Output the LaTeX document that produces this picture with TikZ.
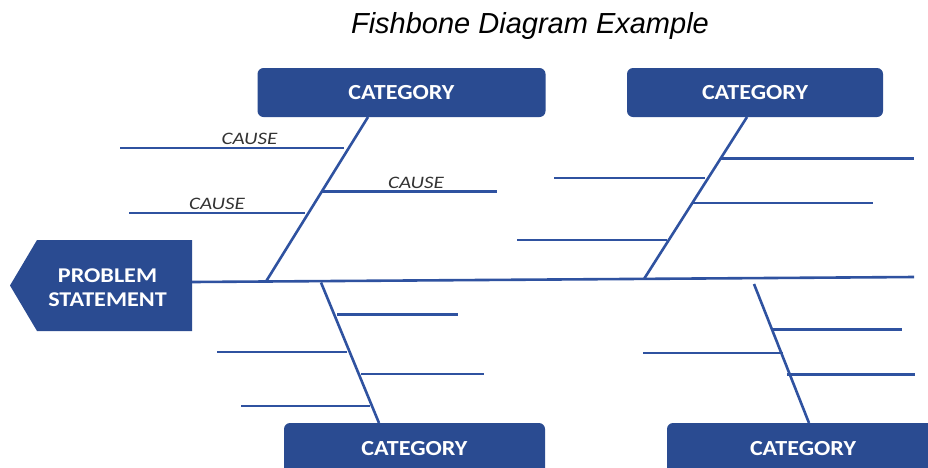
\documentclass[tikz,border=0pt]{standalone}
\usepackage{fontspec}
\setmainfont{Liberation Sans}
\newfontfamily\catfont[FakeStretch=1.12]{Carlito}
\newfontfamily\pbfont[FakeStretch=1.15]{Carlito}
\newfontfamily\causefont[FakeStretch=1.2]{Carlito}
\definecolor{boxblue}{RGB}{42,75,145}
\definecolor{lineblue}{RGB}{47,82,160}
\definecolor{causegray}{RGB}{51,51,51}
\begin{document}
\begin{tikzpicture}[x=1pt,y=-1pt,
  bone/.style={draw=lineblue,line width=2.6pt},
  catbox/.style={fill=boxblue,rounded corners=6pt,text=white,inner sep=0pt,
    font=\catfont\bfseries\fontsize{21.5}{25}\selectfont},
  pbtext/.style={text=white,align=center,inner sep=0pt,
    font=\pbfont\bfseries\fontsize{21}{24}\selectfont},
  causelbl/.style={text=causegray,anchor=base,inner sep=0pt,
    font=\causefont\itshape\fontsize{17.5}{20}\selectfont},
  titlelbl/.style={anchor=base,inner sep=0pt,font=\itshape\fontsize{29}{34}\selectfont}]
\clip (0,0) rectangle (928,467);
\fill[white] (0,0) rectangle (928,467);

% title
\node[titlelbl] (title) at (530,33) {Fishbone Diagram Example};

% problem statement (head)
\fill[boxblue] (10,285.5) -- (37,240) -- (192,240) -- (192,331) -- (37,331) -- cycle;
\node[pbtext] (pb) at (107.5,288) {PROBLEM\\STATEMENT};
\coordinate (pbe) at (192,282);

% category boxes
\node[catbox,minimum width=288pt,minimum height=49pt] (c1) at (401.5,92.5) {CATEGORY};
\node[catbox,minimum width=256pt,minimum height=49pt] (c2) at (755,92.5) {CATEGORY};
\node[catbox,minimum width=261pt,minimum height=51pt] (c3) at (414.5,448.5) {CATEGORY};
\node[catbox,minimum width=272pt,minimum height=51pt] (c4) at (803,448.5) {CATEGORY};

% spine
\coordinate (spR) at (914,277);
\draw[bone] (pbe) -- (spR);

% bones
\coordinate (b1t) at (368,117);   \coordinate (b1b) at (266,281.5);
\coordinate (b2t) at (747,117);   \coordinate (b2b) at (644,279);
\coordinate (b3t) at (321,282.5); \coordinate (b3b) at (379,423);
\coordinate (b4t) at (754,284);   \coordinate (b4b) at (809,423);
\draw[bone] (b1t) -- (b1b);
\draw[bone] (b2t) -- (b2b);
\draw[bone] (b3t) -- (b3b);
\draw[bone] (b4t) -- (b4b);

% branches, top-left
\draw[bone] (120,148) coordinate (a1) -- (344,148) coordinate (a2);
\draw[bone] (322,191.5) coordinate (a3) -- (497,191.5) coordinate (a4);
\draw[bone] (129,213) coordinate (a5) -- (305,213) coordinate (a6);
% branches, top-right
\draw[bone] (721,158.5) coordinate (d1) -- (914,158.5) coordinate (d2);
\draw[bone] (554,178) coordinate (d3) -- (705,178) coordinate (d4);
\draw[bone] (693,203) coordinate (d5) -- (873,203) coordinate (d6);
\draw[bone] (517,240) coordinate (d7) -- (667,240) coordinate (d8);
% branches, bottom-left
\draw[bone] (337,314.5) coordinate (e1) -- (458,314.5) coordinate (e2);
\draw[bone] (217,352) coordinate (e3) -- (347,352) coordinate (e4);
\draw[bone] (361,374) coordinate (e5) -- (484,374) coordinate (e6);
\draw[bone] (241,406) coordinate (e7) -- (370,406) coordinate (e8);
% branches, bottom-right
\draw[bone] (773,329.5) coordinate (f1) -- (902,329.5) coordinate (f2);
\draw[bone] (643,353) coordinate (f3) -- (783,353) coordinate (f4);
\draw[bone] (787,374.5) coordinate (f5) -- (915,374.5) coordinate (f6);

% cause labels
\node[causelbl] (k1) at (249.5,144) {CAUSE};
\node[causelbl] (k2) at (416,188) {CAUSE};
\node[causelbl] (k3) at (217,209) {CAUSE};
\end{tikzpicture}
\end{document}
